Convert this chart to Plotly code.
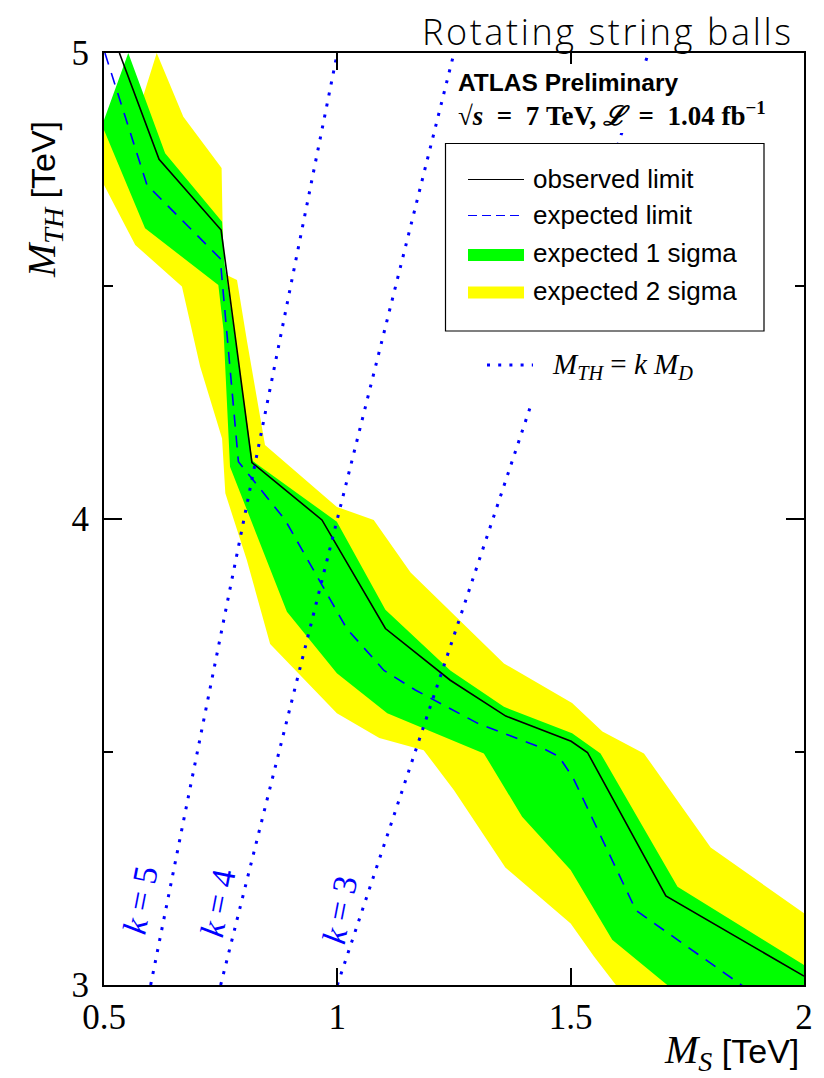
import plotly.graph_objects as go

# ---------------- data ----------------
obs_ms = [0.533, 0.618, 0.751, 0.817, 0.967, 1.103, 1.242, 1.361, 1.501, 1.536, 1.704, 2.0]
obs_mth = [5.0, 4.772, 4.620, 4.121, 3.998, 3.765, 3.654, 3.577, 3.523, 3.499, 3.191, 3.019]

exp_ms = [0.502, 0.592, 0.749, 0.788, 0.888, 1.02, 1.10, 1.167, 1.30, 1.44, 1.475, 1.505, 1.64, 1.865, 2.0]
exp_mth = [5.0, 4.717, 4.559, 4.123, 3.998, 3.765, 3.675, 3.633, 3.562, 3.508, 3.49, 3.445, 3.16, 3.0, 2.905]

g1_up_ms = [0.5, 0.552, 0.631, 0.753, 0.758, 0.818, 0.999, 1.103, 1.242, 1.357, 1.503, 1.564, 1.729, 2.0]
g1_up_mth = [4.856, 5.0, 4.785, 4.638, 4.55, 4.125, 3.994, 3.805, 3.675, 3.597, 3.540, 3.497, 3.211, 3.043]
g1_lo_ms = [0.5, 0.588, 0.745, 0.756, 0.770, 0.892, 0.999, 1.107, 1.314, 1.396, 1.500, 1.589, 1.707, 2.0]
g1_lo_mth = [4.835, 4.624, 4.502, 4.406, 4.112, 3.801, 3.669, 3.583, 3.497, 3.361, 3.247, 3.097, 3.0, 2.75]

g2_up_ms = [0.5, 0.577, 0.613, 0.670, 0.752, 0.756, 0.785, 0.806, 0.845, 0.999, 1.078, 1.157, 1.357, 1.503, 1.568, 1.657, 1.800, 2.0]
g2_up_mth = [4.845, 4.885, 5.0, 4.863, 4.753, 4.527, 4.513, 4.384, 4.159, 4.026, 3.998, 3.885, 3.690, 3.605, 3.544, 3.497, 3.295, 3.154]
g2_lo_ms = [0.5, 0.567, 0.667, 0.706, 0.753, 0.760, 0.806, 0.856, 0.999, 1.09, 1.185, 1.25, 1.360, 1.500, 1.550, 1.62, 2.0]
g2_lo_mth = [4.717, 4.588, 4.499, 4.327, 4.173, 4.055, 3.912, 3.732, 3.583, 3.53, 3.504, 3.418, 3.252, 3.132, 3.061, 2.97, 2.8]

k_values = [5, 4, 3]
k_ms = [[0.6, 1.0], [0.75, 1.25], [1.0, 5.0 / 3.0]]
k_mth = [[3.0, 5.0], [3.0, 5.0], [3.0, 5.0]]
k_label_pos = [(0.577, 3.182), (0.745, 3.176), (1.006, 3.161)]

x_ticks = [0.5, 1, 1.5, 2]
x_ticklabels = ["0.5", "1", "1.5", "2"]
y_ticks = [3, 4, 5]
y_ticklabels = ["3", "4", "5"]

legend_labels = ["observed limit", "expected limit", "expected 1 sigma", "expected 2 sigma"]

# ---------------- layout helpers ----------------
L, R, T, B = 104, 804, 53, 985
def px_x(p):
    return (p - L) / (R - L)
def px_y(p):
    return (B - p) / (B - T)

BLUE = "#0000ff"
GREEN = "#00ff00"
YELLOW = "#ffff00"
SERIF = "Liberation Serif"
SANS = "Liberation Sans"
NB = "\u00a0"

fig = go.Figure()

fig.add_trace(go.Scatter(
    x=g2_up_ms + g2_lo_ms[::-1], y=g2_up_mth + g2_lo_mth[::-1],
    fill="toself", fillcolor=YELLOW, mode="lines", line=dict(width=0, color=YELLOW),
    hoverinfo="skip", showlegend=False))
fig.add_trace(go.Scatter(
    x=g1_up_ms + g1_lo_ms[::-1], y=g1_up_mth + g1_lo_mth[::-1],
    fill="toself", fillcolor=GREEN, mode="lines", line=dict(width=0, color=GREEN),
    hoverinfo="skip", showlegend=False))
fig.add_trace(go.Scatter(x=obs_ms, y=obs_mth, mode="lines",
                         line=dict(color="black", width=1.6), showlegend=False))
fig.add_trace(go.Scatter(x=exp_ms, y=exp_mth, mode="lines",
                         line=dict(color=BLUE, width=1.6, dash="12px,9px"), showlegend=False))
for xs, ys in zip(k_ms, k_mth):
    fig.add_trace(go.Scatter(x=xs, y=ys, mode="lines",
                             line=dict(color=BLUE, width=3, dash="3px,8.2px"), showlegend=False))

shapes = []
# white areas behind the text blocks (hide the k=3 line there)
shapes.append(dict(type="rect", xref="paper", yref="paper", layer="above",
                   x0=px_x(458), x1=px_x(782), y0=px_y(133), y1=px_y(64),
                   fillcolor="white", line=dict(width=0)))
shapes.append(dict(type="rect", xref="paper", yref="paper", layer="above",
                   x0=px_x(445), x1=px_x(782), y0=px_y(408), y1=px_y(143),
                   fillcolor="white", line=dict(width=0)))
# legend border
shapes.append(dict(type="rect", xref="paper", yref="paper", layer="above",
                   x0=px_x(445.5), x1=px_x(764), y0=px_y(331), y1=px_y(143.5),
                   fillcolor="rgba(0,0,0,0)", line=dict(width=1.2, color="black")))
# legend samples
shapes.append(dict(type="line", xref="paper", yref="paper", layer="above",
                   x0=px_x(468), x1=px_x(524), y0=px_y(179.5), y1=px_y(179.5),
                   line=dict(color="black", width=1.2)))
shapes.append(dict(type="line", xref="paper", yref="paper", layer="above",
                   x0=px_x(468), x1=px_x(524), y0=px_y(215.5), y1=px_y(215.5),
                   line=dict(color=BLUE, width=1.2, dash="9px,5px")))
shapes.append(dict(type="rect", xref="paper", yref="paper", layer="above",
                   x0=px_x(468), x1=px_x(524), y0=px_y(261), y1=px_y(249),
                   fillcolor=GREEN, line=dict(width=0)))
shapes.append(dict(type="rect", xref="paper", yref="paper", layer="above",
                   x0=px_x(468), x1=px_x(524), y0=px_y(298.5), y1=px_y(286.5),
                   fillcolor=YELLOW, line=dict(width=0)))
shapes.append(dict(type="line", xref="paper", yref="paper", layer="above",
                   x0=px_x(487), x1=px_x(533), y0=px_y(365), y1=px_y(365),
                   line=dict(color=BLUE, width=3, dash="3px,8.2px")))

annotations = []
legend_y = [179.5, 215.5, 254, 291.5]
for lab, yy in zip(legend_labels, legend_y):
    annotations.append(dict(xref="paper", yref="paper", x=px_x(531), y=px_y(yy - 1),
                            text=lab, showarrow=False, xanchor="left", yanchor="middle",
                            font=dict(family=SANS, size=26, color="black")))
annotations.append(dict(xref="paper", yref="paper", x=px_x(550), y=px_y(366),
                        text=f"<i>M</i><sub><i>TH</i></sub>{NB}={NB}<i>k</i>{NB}<i>M</i><sub><i>D</i></sub>",
                        showarrow=False, xanchor="left", yanchor="middle",
                        font=dict(family=SERIF, size=29, color="black")))
annotations.append(dict(xref="paper", yref="paper", x=px_x(456), y=px_y(83),
                        text="<b>ATLAS Preliminary</b>", showarrow=False,
                        xanchor="left", yanchor="middle",
                        font=dict(family=SANS, size=24.5, color="black")))
annotations.append(dict(xref="paper", yref="paper", x=px_x(456), y=px_y(114),
                        text=f"<b>√<i>s</i>{NB}{NB}={NB}{NB}7{NB}TeV,{NB}<i>ℒ</i>{NB}{NB}={NB}{NB}1.04{NB}fb<sup>−1</sup></b>",
                        showarrow=False, xanchor="left", yanchor="middle",
                        font=dict(family=SERIF, size=27, color="black")))
# title
annotations.append(dict(xref="paper", yref="paper", x=px_x(796), y=px_y(31),
                        text="<span style='letter-spacing:2.6px'>Rotating string balls</span>",
                        showarrow=False, xanchor="right", yanchor="middle",
                        font=dict(family="Open Sans", size=36, color="black", weight=300)))
# axis titles
annotations.append(dict(xref="paper", yref="paper", x=px_x(801), y=px_y(1052),
                        text="<span style='font-family:Liberation Serif;font-size:40px'><i>M</i><sub><i>S</i></sub></span> [TeV]",
                        showarrow=False, xanchor="right", yanchor="middle",
                        font=dict(family=SANS, size=34, color="black")))
annotations.append(dict(xref="paper", yref="paper", x=px_x(44), y=px_y(200),
                        text="<span style='font-family:Liberation Serif;font-size:40px'><i>M</i><sub><i>TH</i></sub></span> [TeV]",
                        showarrow=False, textangle=-90, xanchor="center", yanchor="middle",
                        font=dict(family=SANS, size=34, color="black")))
# k labels
for kv, (lx, ly) in zip(k_values, k_label_pos):
    annotations.append(dict(xref="x", yref="y", x=lx, y=ly,
                            text=f"<i>k</i>{NB}={NB}{kv}", showarrow=False, textangle=-79,
                            xanchor="center", yanchor="middle",
                            font=dict(family=SERIF, size=34, color=BLUE)))

fig.update_layout(
    width=824, height=1078,
    margin=dict(l=L, r=824 - R, t=T, b=1078 - B),
    plot_bgcolor="white", paper_bgcolor="white",
    showlegend=False,
    shapes=shapes, annotations=annotations,
    xaxis=dict(range=[0.5, 2.0], tickvals=x_ticks, ticktext=x_ticklabels,
               ticks="inside", ticklen=17, tickwidth=1.5, tickcolor="black",
               showline=True, linecolor="black", linewidth=2, mirror="allticks",
               showgrid=False, zeroline=False,
               tickfont=dict(family=SERIF, size=35, color="black")),
    yaxis=dict(range=[3.0, 5.0], tickvals=y_ticks, ticktext=y_ticklabels,
               ticks="inside", ticklen=18, tickwidth=1.5, tickcolor="black",
               minor=dict(tickvals=[3.5, 4.5], ticks="inside", ticklen=9, tickwidth=1.5, tickcolor="black"),
               showline=True, linecolor="black", linewidth=2, mirror="allticks",
               showgrid=False, zeroline=False, ticklabelstandoff=6,
               tickfont=dict(family=SERIF, size=35, color="black")),
)

fig.write_html("out.html")
